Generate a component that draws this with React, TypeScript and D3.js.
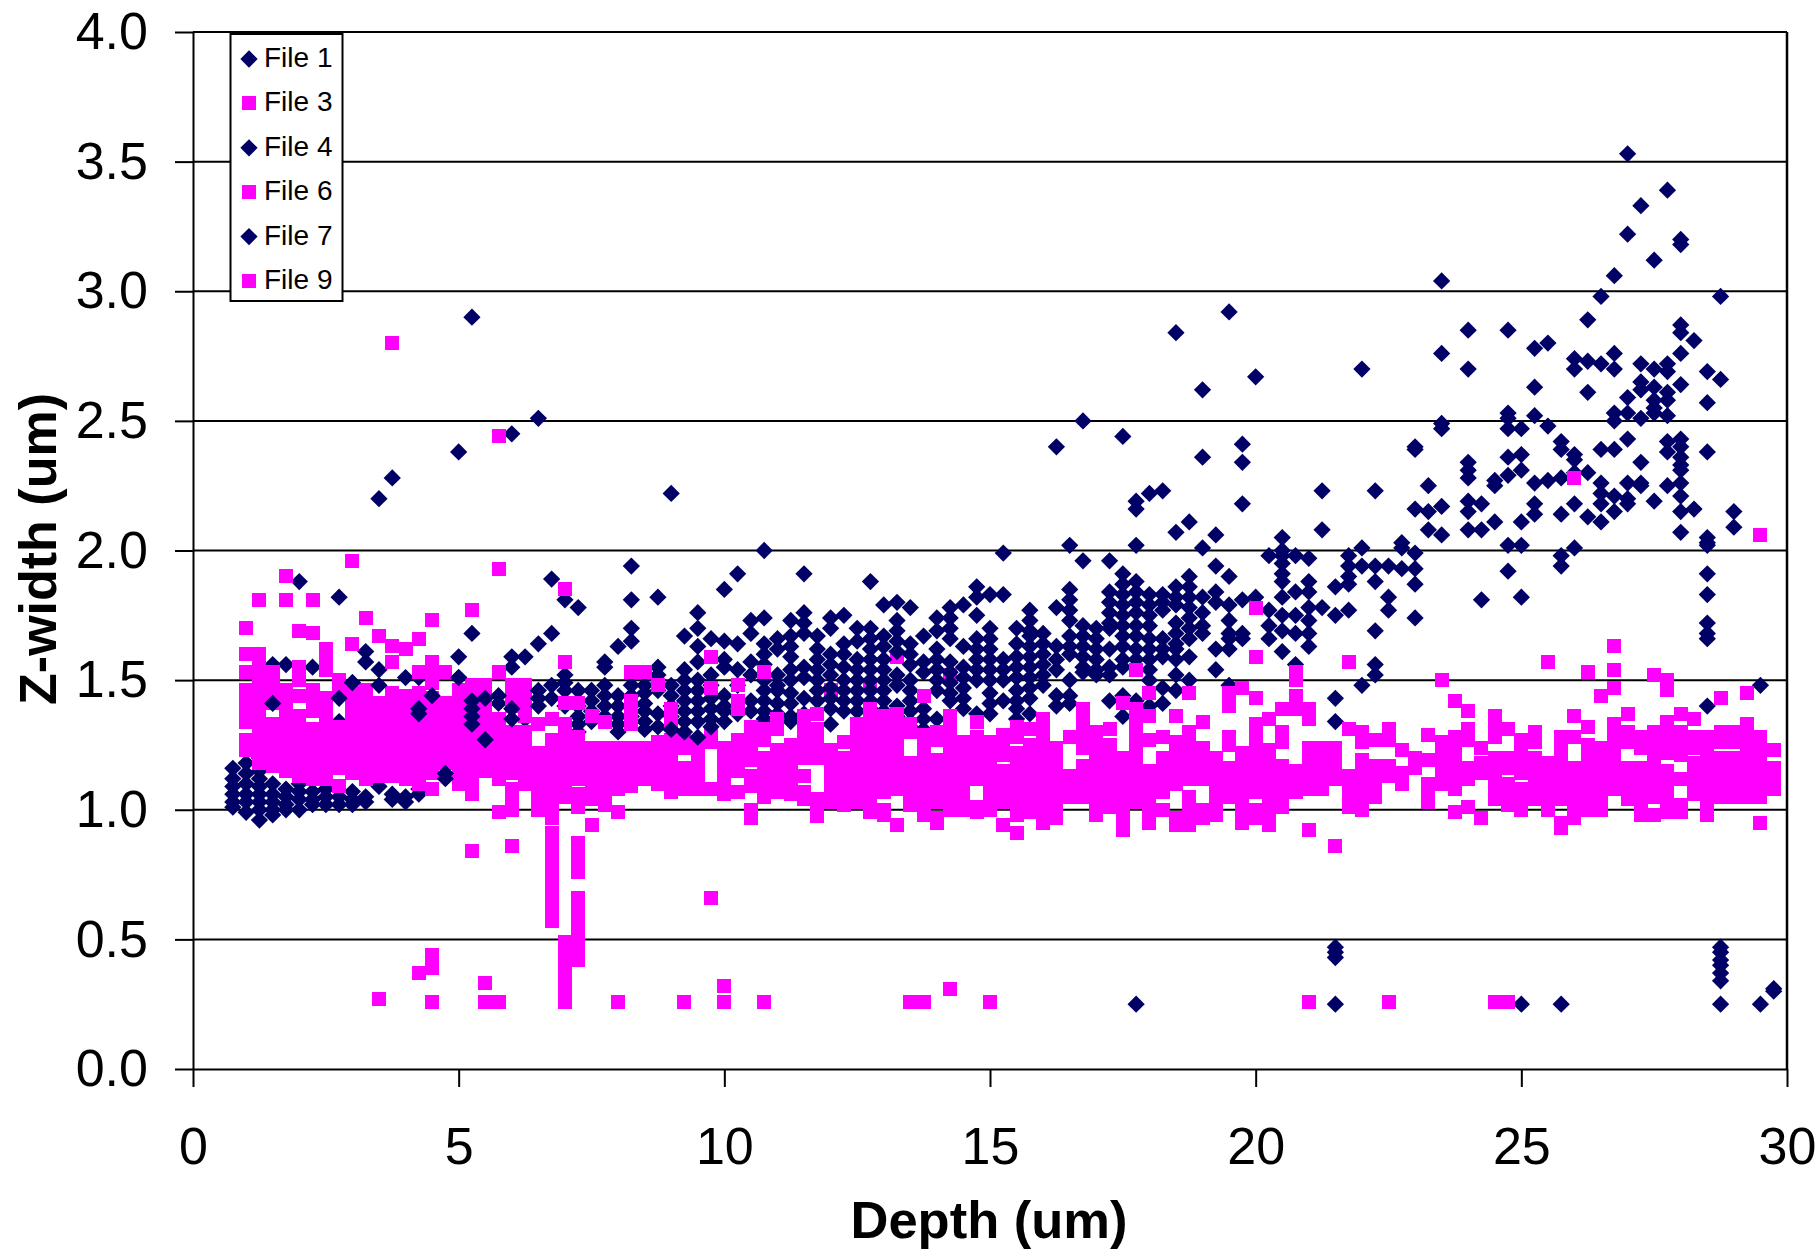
import React, { useEffect, useRef } from 'react'
import * as d3 from 'd3'

type Column = [number, number[]]

const navy = '#000066'
const magenta = '#ff00ff'

const xTickValues = [0, 5, 10, 15, 20, 25, 30]
const yTickValues = [0, 0.5, 1, 1.5, 2, 2.5, 3, 3.5, 4]
const legendLabels = ['File 1', 'File 3', 'File 4', 'File 6', 'File 7', 'File 9']

// [depth, z-widths]
const file1: Column[] = [
  [0.75, [1.16, 1.12, 1.09, 1.06, 1.03, 1.01]],
  [1, [1.18, 1.14, 1.1, 1.06, 1.03, 0.99]],
  [1.25, [1.2, 1.15, 1.12, 1.09, 1.06, 1.03, 1, 0.96]],
  [1.5, [1.56, 1.18, 1.1, 1.06, 1.03, 1, 0.98]],
  [1.75, [1.56, 1.08, 1.05, 1.02, 1]],
  [2, [1.88, 1.1, 1.07, 1.04, 1]],
  [2.25, [1.55, 1.07, 1.04, 1.02]],
  [2.5, [1.08, 1.05, 1.02]],
  [2.75, [1.82, 1.34, 1.05, 1.02]],
  [3, [1.49, 1.07, 1.04, 1.02]],
  [3.25, [1.61, 1.57, 1.05, 1.03]],
  [3.5, [2.2, 1.54, 1.3, 1.09]],
  [3.75, [2.28, 1.06, 1.04]],
  [4, [1.51, 1.05, 1.03]],
  [4.25, [1.51, 1.08, 1.06]],
  [4.5, [1.3]],
  [5, [2.38, 1.59, 1.51]],
  [5.25, [2.9, 1.68]],
  [5.75, [1.41]],
  [6, [2.45, 1.59, 1.55]],
  [6.25, [1.59, 1.35]],
]

const file3: Column[] = [
  [1, [1.7, 1.6, 1.53, 1.46, 1.42, 1.38, 1.34, 1.27, 1.23]],
  [1.25, [1.81, 1.6, 1.56, 1.52, 1.48, 1.44, 1.4, 1.36, 1.31, 1.27, 1.23, 1.2, 1.18]],
  [1.5, [1.53, 1.49, 1.45, 1.41, 1.33, 1.29, 1.25, 1.21, 1.17]],
  [1.75, [1.9, 1.81, 1.46, 1.42, 1.38, 1.34, 1.3, 1.26, 1.22, 1.18, 1.15]],
  [2, [1.69, 1.55, 1.51, 1.5, 1.44, 1.36, 1.32, 1.28, 1.24, 1.2, 1.16, 1.13]],
  [2.25, [1.81, 1.68, 1.46, 1.42, 1.38, 1.31, 1.27, 1.23, 1.19, 1.15, 1.12]],
  [2.5, [1.62, 1.58, 1.54, 1.43, 1.39, 1.35, 1.31, 1.27, 1.23, 1.19, 1.15, 1.12]],
  [2.75, [1.5, 1.46, 1.32, 1.28, 1.24, 1.2, 1.16, 1.09]],
  [3, [1.96, 1.64, 1.45, 1.42, 1.38, 1.34, 1.3, 1.26, 1.22, 1.18, 1.14]],
  [3.25, [1.74, 1.46, 1.42, 1.38, 1.34, 1.3, 1.26, 1.22, 1.18, 1.14, 1.12]],
  [3.5, [1.67, 1.41, 1.37, 1.33, 1.29, 1.25, 1.21, 1.17, 1.13, 0.27]],
  [3.75, [2.8, 1.63, 1.57, 1.45, 1.41, 1.37, 1.33, 1.29, 1.25, 1.21, 1.17, 1.13]],
  [4, [1.62, 1.44, 1.4, 1.36, 1.32, 1.28, 1.24, 1.2, 1.16, 1.12]],
  [4.25, [1.66, 1.53, 1.45, 1.41, 1.37, 1.33, 1.29, 1.25, 1.21, 1.17, 1.13, 1.1, 0.37]],
  [4.5, [1.73, 1.57, 1.53, 1.49, 1.43, 1.39, 1.35, 1.31, 1.27, 1.23, 1.19, 1.14, 1.08, 0.44, 0.39, 0.26]],
  [4.75, [1.53, 1.41, 1.37, 1.33, 1.29, 1.25, 1.21, 1.18]],
  [5, [1.46, 1.42, 1.38, 1.34, 1.3, 1.26, 1.22, 1.18, 1.14, 1.1]],
  [5.25, [1.77, 1.48, 1.44, 1.4, 1.36, 1.32, 1.28, 1.24, 1.2, 1.16, 1.12, 1.1, 1.06, 0.84]],
  [5.5, [1.48, 1.44, 1.4, 1.36, 1.32, 1.28, 1.24, 1.2, 1.15, 0.33, 0.26]],
  [5.75, [2.44, 1.93, 1.53, 1.35, 1.31, 1.27, 1.23, 1.19, 1.15, 1.12, 0.99, 0.26]],
  [6, [1.48, 1.44, 1.4, 1.3, 1.26, 1.22, 1.18, 1.14, 1.08, 1.04, 1, 0.86]],
  [6.25, [1.48, 1.44, 1.4, 1.36, 1.3, 1.26, 1.22, 1.18, 1.14, 1.1]],
  [12, [1.46]],
  [12.75, [1.48]],
  [13.25, [1.59]],
  [14.25, [1.52]],
]

const file4: Column[] = [
  [1.5, [1.41]],
  [2.75, [1.43]],
  [3, [1.49]],
  [3.5, [1.48]],
  [4.25, [1.39, 1.37]],
  [4.5, [1.44]],
  [4.75, [1.14, 1.12]],
  [5, [1.51]],
  [5.25, [1.42, 1.39, 1.36, 1.33]],
  [5.5, [1.43, 1.27]],
  [5.75, [1.44]],
  [6, [1.39, 1.35]],
  [6.5, [2.51, 1.64, 1.46, 1.43, 1.4]],
  [6.75, [1.89, 1.68, 1.48, 1.43]],
  [7, [1.81, 1.52, 1.49, 1.46, 1.4]],
  [7.25, [1.78, 1.46, 1.4, 1.36, 1.33, 1.3]],
  [7.5, [1.46, 1.42, 1.38, 1.34]],
  [7.75, [1.57, 1.55, 1.48, 1.44, 1.4, 1.36]],
  [8, [1.63, 1.44, 1.4, 1.36, 1.33, 1.3]],
  [8.25, [1.94, 1.81, 1.7, 1.65, 1.48, 1.44, 1.4, 1.36]],
  [8.5, [1.48, 1.45, 1.41, 1.38, 1.34, 1.31]],
  [8.75, [1.82, 1.55, 1.52, 1.5, 1.46, 1.37, 1.32]],
  [9, [2.22, 1.48, 1.44, 1.4, 1.36, 1.31]],
  [9.25, [1.67, 1.54, 1.5, 1.46, 1.42, 1.38, 1.34]],
  [9.5, [1.76, 1.7, 1.63, 1.57, 1.5, 1.46, 1.42, 1.38, 1.34]],
  [9.75, [1.66, 1.52, 1.48, 1.43, 1.39, 1.35]],
  [10, [1.85, 1.65, 1.58, 1.55, 1.44, 1.4, 1.38, 1.34]],
  [10.25, [1.91, 1.64, 1.54, 1.48, 1.37]],
  [10.5, [1.73, 1.68, 1.57, 1.52, 1.42, 1.38]],
  [10.75, [2, 1.74, 1.64, 1.6, 1.56, 1.5, 1.46, 1.42, 1.38, 1.35]],
  [11, [1.66, 1.62, 1.52, 1.48, 1.46, 1.41, 1.37]],
  [11.25, [1.73, 1.67, 1.63, 1.59, 1.54, 1.5, 1.45, 1.41, 1.36, 1.34]],
  [11.5, [1.91, 1.76, 1.72, 1.68, 1.55, 1.51, 1.43, 1.37]],
  [11.75, [1.67, 1.62, 1.58, 1.54, 1.5, 1.46, 1.42]],
  [12, [1.74, 1.7, 1.6, 1.56, 1.52, 1.47, 1.43, 1.39, 1.33]],
  [12.25, [1.75, 1.64, 1.6, 1.55, 1.5, 1.46, 1.42, 1.38]],
  [12.5, [1.7, 1.65, 1.58, 1.54, 1.5, 1.46, 1.42, 1.38]],
  [12.75, [1.88, 1.7, 1.66, 1.62, 1.58, 1.54, 1.5, 1.46, 1.42, 1.39]],
  [13, [1.79, 1.67, 1.63, 1.58, 1.54, 1.5, 1.46, 1.42, 1.38]],
  [13.25, [1.8, 1.73, 1.69, 1.65, 1.61, 1.52, 1.48, 1.4, 1.36]],
  [13.5, [1.78, 1.64, 1.6, 1.56, 1.5, 1.46, 1.42, 1.38, 1.34, 1.32]],
  [13.75, [1.67, 1.57, 1.53, 1.39, 1.35, 1.31]],
  [14, [1.74, 1.69, 1.62, 1.58, 1.54, 1.5, 1.46, 1.35]],
  [14.25, [1.78, 1.74, 1.7, 1.66, 1.57, 1.53, 1.49, 1.45, 1.42]],
  [14.5, [1.79, 1.63, 1.55, 1.51, 1.47, 1.43, 1.39]],
  [14.75, [1.86, 1.82, 1.75, 1.66, 1.62, 1.58, 1.54, 1.5, 1.37]],
  [15, [1.83, 1.7, 1.66, 1.62, 1.58, 1.54, 1.5, 1.45, 1.41, 1.37]],
  [15.25, [1.99, 1.83, 1.58, 1.54, 1.5, 1.42]],
  [15.5, [1.7, 1.64, 1.59, 1.55, 1.51, 1.46, 1.42, 1.39, 1.35]],
  [15.75, [1.77, 1.73, 1.69, 1.67, 1.63, 1.59, 1.55, 1.51, 1.47, 1.43, 1.37]],
  [16, [1.68, 1.64, 1.6, 1.56, 1.52, 1.48]],
  [16.25, [2.4, 1.78, 1.63, 1.58, 1.54, 1.44, 1.4]],
  [16.5, [2.02, 1.85, 1.81, 1.77, 1.73, 1.67, 1.63, 1.6, 1.5, 1.44, 1.41]],
  [16.75, [2.5, 1.96, 1.71, 1.67, 1.63, 1.59, 1.55, 1.53]],
  [17, [1.7, 1.66, 1.62, 1.58, 1.54, 1.52]],
  [17.25, [1.96, 1.84, 1.8, 1.76, 1.72, 1.7, 1.62, 1.55, 1.52, 1.42]],
  [17.5, [2.44, 1.91, 1.87, 1.83, 1.79, 1.75, 1.71, 1.67, 1.63, 1.58, 1.55, 1.44, 1.36]],
  [17.75, [2.19, 2.16, 2.02, 1.88, 1.84, 1.8, 1.76, 1.71, 1.67, 1.62, 1.58, 1.42, 0.25]],
  [18, [2.22, 1.83, 1.79, 1.75, 1.71, 1.66, 1.62, 1.58, 1.54, 1.5, 1.4]],
]

const file6: Column[] = [
  [6.5, [1.33, 1.22, 1.18, 1.14, 1.1, 1.06, 1.02, 1]],
  [6.75, [1.35, 1.27, 1.23, 1.19, 1.15, 1.11, 1.07, 1.03, 1, 0.97, 0.91, 0.87, 0.83, 0.79, 0.76, 0.72, 0.68, 0.64, 0.6, 0.57]],
  [7, [1.85, 1.57, 1.41, 1.33, 1.28, 1.24, 1.2, 1.16, 1.12, 1.09, 1.05, 0.49, 0.45, 0.41, 0.37, 0.33, 0.29, 0.26]],
  [7.25, [1.41, 1.28, 1.24, 1.2, 1.15, 1.12, 1.06, 1.01, 0.87, 0.83, 0.81, 0.76, 0.66, 0.62, 0.58, 0.54, 0.5, 0.46, 0.42]],
  [7.5, [1.36, 1.24, 1.2, 1.16, 1.12, 1.09, 1.05, 1.04, 0.94]],
  [7.75, [1.34, 1.24, 1.2, 1.16, 1.12, 1.08, 1.05, 1.02]],
  [8, [1.24, 1.2, 1.16, 1.12, 1.08, 0.99, 0.26]],
  [8.25, [1.53, 1.42, 1.37, 1.33, 1.24, 1.2, 1.16, 1.13, 1.09]],
  [8.5, [1.53, 1.24, 1.2, 1.16, 1.12]],
  [8.75, [1.48, 1.26, 1.22, 1.18, 1.14, 1.1]],
  [9, [1.39, 1.38, 1.34, 1.27, 1.23, 1.19, 1.15, 1.11, 1.07]],
  [9.25, [1.27, 1.24, 1.16, 1.12, 1.08, 0.26]],
  [9.5, [1.26, 1.22, 1.18, 1.14, 1.1, 1.08]],
  [9.75, [1.59, 1.47, 1.3, 1.26, 1.08, 0.66]],
  [10, [1.24, 1.2, 1.16, 1.12, 1.08, 1.06, 0.32, 0.26]],
  [10.25, [1.48, 1.42, 1.39, 1.27, 1.23, 1.18, 1.15, 1.07]],
  [10.5, [1.32, 1.28, 1.24, 1.2, 1.19, 1.13, 1.09, 1, 0.97]],
  [10.75, [1.53, 1.31, 1.27, 1.2, 1.16, 1.12, 1.08, 1.05, 0.26]],
  [11, [1.35, 1.31, 1.23, 1.19, 1.15, 1.11, 1.07]],
  [11.25, [1.25, 1.21, 1.18, 1.15, 1.11, 1.06]],
  [11.5, [1.36, 1.32, 1.28, 1.24, 1.2, 1.13, 1.07, 1.04]],
  [11.75, [1.37, 1.31, 1.27, 1.24, 1.2, 1.04, 0.995, 0.975]],
  [12, [1.23, 1.19, 1.15, 1.11, 1.07, 1.03]],
  [12.25, [1.26, 1.2, 1.17, 1.13, 1.09, 1.05, 1.02]],
  [12.5, [1.33, 1.29, 1.25, 1.21, 1.17, 1.13, 1.09, 1.05, 1.03]],
  [12.75, [1.39, 1.34, 1.3, 1.26, 1.22, 1.18, 1.14, 1.1, 1.06, 1.02, 0.99]],
  [13, [1.36, 1.32, 1.28, 1.24, 1.19, 1.15, 1.11, 1.07, 1, 0.98]],
  [13.25, [1.37, 1.33, 1.29, 1.24, 1.2, 1.16, 1.12, 1.08, 0.94]],
  [13.5, [1.33, 1.3, 1.18, 1.14, 1.1, 1.06, 1.02, 0.26]],
  [13.75, [1.44, 1.29, 1.25, 1.21, 1.17, 1.13, 1.09, 1.05, 1.01, 0.98, 0.26]],
  [14, [1.3, 1.27, 1.19, 1.15, 1.11, 1.07, 1.03, 0.97, 0.95]],
  [14.25, [1.36, 1.32, 1.28, 1.24, 1.2, 1.16, 1.12, 1.08, 1.04, 1, 0.31]],
  [14.5, [1.26, 1.22, 1.18, 1.14, 1.1, 1.06, 1.03, 1]],
  [14.75, [1.34, 1.28, 1.24, 1.2, 1.16, 1.12, 1.01, 0.99]],
  [15, [1.26, 1.22, 1.18, 1.14, 1.1, 1.06, 1.02, 1, 0.26]],
  [15.25, [1.29, 1.26, 1.21, 1.15, 1.11, 1.07, 1.03, 0.94]],
  [15.5, [1.32, 1.28, 1.22, 1.18, 1.14, 1.1, 1.06, 1.02, 0.98, 0.91]],
  [15.75, [1.31, 1.25, 1.2, 1.15, 1.11, 1.07, 1.03, 0.99]],
  [16, [1.35, 1.3, 1.26, 1.22, 1.18, 1.14, 1.1, 1.06, 1.02, 0.98, 0.95]],
  [16.25, [1.24, 1.2, 1.16, 1.12, 1.08, 1.04, 1, 0.97]],
  [16.5, [1.28, 1.13, 1.09, 1.05]],
  [16.75, [1.39, 1.35, 1.31, 1.27, 1.24, 1.17, 1.13, 1.09, 1.05]],
  [17, [1.3, 1.25, 1.21, 1.17, 1.13, 1.09, 1.05, 1.01, 0.98]],
  [17.25, [1.31, 1.25, 1.21, 1.17, 1.13, 1.09, 1.05, 1.01]],
  [17.5, [1.41, 1.2, 1.16, 1.12, 1.08, 1.04, 1, 0.96, 0.92]],
  [17.75, [1.54, 1.39, 1.35, 1.31, 1.27, 1.23, 1.19, 1.15, 1.11, 1.07, 1.03]],
]

const file7: Column[] = [
  [9, [1.31]],
  [9.25, [1.3]],
  [9.5, [1.28]],
  [9.75, [1.32]],
  [18.25, [2.23, 1.83, 1.8, 1.77, 1.66, 1.62, 1.59, 1.47, 1.41]],
  [18.5, [2.84, 2.07, 1.86, 1.82, 1.79, 1.72, 1.68, 1.64, 1.62, 1.58, 1.52, 1.46]],
  [18.75, [2.11, 1.9, 1.86, 1.82, 1.78, 1.74, 1.7, 1.66, 1.59, 1.5]],
  [19, [2.62, 2.36, 2.01, 1.82, 1.76, 1.71, 1.68]],
  [19.25, [2.06, 1.94, 1.84, 1.8, 1.62, 1.54]],
  [19.5, [2.92, 1.9, 1.79, 1.73, 1.68, 1.66, 1.62, 1.48]],
  [19.75, [2.41, 2.34, 2.18, 1.81, 1.68, 1.66]],
  [20, [2.67, 1.82]],
  [20.25, [1.98, 1.77, 1.71, 1.66]],
  [20.5, [2.05, 2, 1.98, 1.95, 1.91, 1.88, 1.82, 1.75, 1.69, 1.61]],
  [20.75, [1.98, 1.84, 1.75, 1.68, 1.56]],
  [21, [1.97, 1.88, 1.84, 1.78, 1.73, 1.68, 1.63]],
  [21.25, [2.23, 2.08, 1.78]],
  [21.5, [1.86, 1.75, 1.43, 1.34, 0.47, 0.45, 0.43, 0.25]],
  [21.75, [1.98, 1.94, 1.9, 1.87, 1.77]],
  [22, [2.7, 2.01, 1.94, 1.48]],
  [22.25, [2.23, 1.94, 1.88, 1.69, 1.56, 1.52]],
  [22.5, [1.94, 1.82, 1.77]],
  [22.75, [2.03, 2.01, 1.93]],
  [23, [2.4, 2.39, 2.16, 1.99, 1.93, 1.87, 1.74]],
  [23.25, [2.25, 2.15, 2.08]],
  [23.5, [3.04, 2.76, 2.49, 2.47, 2.17, 2.06]],
  [24, [2.85, 2.7, 2.34, 2.31, 2.28, 2.19, 2.15, 2.08]],
  [24.25, [2.18, 2.08, 1.81]],
  [24.5, [2.27, 2.25, 2.11]],
  [24.75, [2.85, 2.53, 2.51, 2.47, 2.36, 2.29, 2.02, 1.92]],
  [25, [2.47, 2.37, 2.31, 2.11, 2.02, 1.82, 0.25]],
  [25.25, [2.78, 2.63, 2.52, 2.26, 2.18, 2.14]],
  [25.5, [2.8, 2.48, 2.27]],
  [25.75, [2.42, 2.39, 2.28, 2.14, 1.98, 1.94, 0.25]],
  [26, [2.74, 2.7, 2.37, 2.35, 2.3, 2.18, 2.01]],
  [26.25, [2.89, 2.73, 2.61, 2.3, 2.13]],
  [26.5, [2.98, 2.72, 2.39, 2.26, 2.22, 2.18, 2.11]],
  [26.75, [3.06, 2.76, 2.7, 2.53, 2.5, 2.39, 2.21, 2.15]],
  [27, [3.53, 3.22, 2.59, 2.53, 2.43, 2.26, 2.2, 2.18]],
  [27.25, [3.33, 2.72, 2.65, 2.62, 2.51, 2.34, 2.26, 2.25]],
  [27.5, [3.12, 2.7, 2.63, 2.58, 2.55, 2.53, 2.19]],
  [27.75, [3.39, 2.72, 2.69, 2.61, 2.58, 2.52, 2.42, 2.38, 2.25]],
  [28, [3.2, 3.18, 2.87, 2.84, 2.76, 2.64, 2.43, 2.4, 2.36, 2.33, 2.31, 2.26, 2.21, 2.15, 2.07]],
  [28.25, [2.81, 2.16]],
  [28.5, [2.69, 2.57, 2.38, 2.05, 2.03, 2.02, 1.91, 1.83, 1.72, 1.68, 1.66, 1.4]],
  [28.75, [2.98, 2.66, 0.47, 0.45, 0.42, 0.4, 0.37, 0.34, 0.25]],
  [29, [2.15, 2.09]],
  [29.5, [1.48, 0.25]],
  [29.75, [0.31, 0.3]],
]

const file9: Column[] = [
  [18, [1.45, 1.36, 1.27, 1.15, 1.11, 1.07, 1.03, 0.98, 0.95]],
  [18.25, [1.28, 1.2, 1.15, 1.11, 1.07, 1]],
  [18.5, [1.36, 1.26, 1.22, 1.18, 1.14, 1.1, 0.97, 0.94]],
  [18.75, [1.45, 1.3, 1.25, 1.2, 1.16, 1.12, 1.05, 1.01, 0.97, 0.94]],
  [19, [1.34, 1.24, 1.2, 1.16, 1.12, 1, 0.97]],
  [19.25, [1.2, 1.16, 1.12, 1.08, 1.04, 1, 0.98]],
  [19.5, [1.45, 1.4, 1.28, 1.25, 1.16, 1.12, 1.08, 1.05]],
  [19.75, [1.47, 1.22, 1.18, 1.14, 1.1, 1.06, 1.02, 0.98, 0.95]],
  [20, [1.78, 1.59, 1.43, 1.33, 1.28, 1.23, 1.19, 1.15, 1.11, 1.07, 1, 0.97]],
  [20.25, [1.35, 1.23, 1.19, 1.16, 1.12, 1.08, 1.03, 1, 0.97, 0.94]],
  [20.5, [1.39, 1.3, 1.26, 1.17, 1.13, 1.09, 1.05, 1.01]],
  [20.75, [1.53, 1.5, 1.44, 1.39, 1.15, 1.11, 1.07]],
  [21, [1.39, 1.35, 1.24, 1.2, 1.16, 1.12, 1.08, 0.92, 0.26]],
  [21.25, [1.24, 1.2, 1.16, 1.12, 1.08]],
  [21.5, [1.24, 1.2, 1.16, 1.12, 0.86]],
  [21.75, [1.57, 1.31, 1.13, 1.09, 1.05, 1.01]],
  [22, [1.3, 1.26, 1.19, 1.15, 1.11, 1.07, 1.03, 1]],
  [22.25, [1.27, 1.17, 1.13, 1.09, 1.05]],
  [22.5, [1.31, 1.27, 1.17, 1.13, 0.26]],
  [22.75, [1.23, 1.14, 1.1]],
  [23, [1.2, 1.16]],
  [23.25, [1.29, 1.19, 1.1, 1.06, 1.03]],
  [23.5, [1.5, 1.26, 1.22, 1.18, 1.14, 1.1]],
  [23.75, [1.42, 1.28, 1.24, 1.2, 1.16, 1.12, 1.08, 0.99]],
  [24, [1.38, 1.31, 1.27, 1.16, 1.12, 1.01]],
  [24.25, [1.24, 1.18, 1.14, 0.97]],
  [24.5, [1.36, 1.32, 1.28, 1.2, 1.16, 1.12, 1.08, 1.04, 0.26]],
  [24.75, [1.31, 1.2, 1.16, 1.1, 1.06, 1.02, 0.26]],
  [25, [1.27, 1.22, 1.18, 1.14, 1.08, 1.04, 1]],
  [25.25, [1.3, 1.26, 1.2, 1.16, 1.12, 1.08, 1.04]],
  [25.5, [1.57, 1.18, 1.14, 1.1, 1.06, 1.02, 1]],
  [25.75, [1.28, 1.24, 1.2, 1.16, 1.12, 1.08, 1.04, 0.95, 0.93]],
  [26, [2.28, 1.36, 1.28, 1.16, 1.12, 1.08, 1.04, 1, 0.97]],
  [26.25, [1.53, 1.32, 1.25, 1.2, 1.16, 1.12, 1.08, 1.04, 1]],
  [26.5, [1.44, 1.24, 1.2, 1.16, 1.12, 1.08, 1.04, 1]],
  [26.75, [1.63, 1.54, 1.47, 1.33, 1.28, 1.24, 1.2, 1.16, 1.12, 1.08]],
  [27, [1.37, 1.3, 1.26, 1.16, 1.12, 1.08, 1.04]],
  [27.25, [1.28, 1.24, 1.16, 1.12, 1.08, 1.04, 1, 0.98]],
  [27.5, [1.52, 1.3, 1.26, 1.22, 1.17, 1.13, 1.09, 1.05, 0.98]],
  [27.75, [1.5, 1.46, 1.34, 1.3, 1.26, 1.22, 1.15, 1.11, 1.06, 1.02, 0.99]],
  [28, [1.37, 1.3, 1.26, 1.21, 1.12, 1.02, 0.99]],
  [28.25, [1.35, 1.28, 1.24, 1.18, 1.14, 1.1, 1.06]],
  [28.5, [1.28, 1.24, 1.2, 1.16, 1.12, 1.08, 1.04, 1, 0.98]],
  [28.75, [1.43, 1.3, 1.26, 1.2, 1.16, 1.12, 1.08, 1.05]],
  [29, [1.3, 1.26, 1.2, 1.16, 1.12, 1.08, 1.05]],
  [29.25, [1.45, 1.33, 1.28, 1.24, 1.2, 1.16, 1.12, 1.08, 1.05]],
  [29.5, [2.06, 1.28, 1.24, 1.2, 1.16, 1.12, 1.08, 1.05, 0.95]],
  [29.75, [1.23, 1.16, 1.12, 1.08]],
]

const seriesList = [file1, file3, file4, file6, file7, file9]

const width = 1819
const height = 1250
const marginLeft = 193
const marginRight = 32
const marginTop = 32
const marginBottom = 181
const fontFamily = '"Liberation Sans", Arial, sans-serif'

const App = () => {
  const svgRef = useRef<SVGSVGElement>(null)

  useEffect(() => {
    const svg = d3.select(svgRef.current)
    svg.selectAll('*').remove()

    const x = d3.scaleLinear().domain([0, 30]).range([marginLeft, width - marginRight])
    const y = d3.scaleLinear().domain([0, 4]).range([height - marginBottom, marginTop])

    const diamond = d3.symbol().type(d3.symbolDiamond2).size(190)
    const square = d3.symbol().type(d3.symbolSquare).size(196)

    // gridlines and frame
    svg.append('g')
      .selectAll('line')
      .data(yTickValues.slice(1))
      .join('line')
      .attr('x1', marginLeft)
      .attr('x2', width - marginRight)
      .attr('y1', d => y(d))
      .attr('y2', d => y(d))
      .attr('stroke', '#000')
      .attr('stroke-width', 2)

    svg.append('line')
      .attr('x1', width - marginRight)
      .attr('x2', width - marginRight)
      .attr('y1', marginTop)
      .attr('y2', height - marginBottom)
      .attr('stroke', '#000')
      .attr('stroke-width', 2.5)

    // one group per file, in legend order so later files sit on top
    seriesList.forEach((columns, i) => {
      const isDiamond = i % 2 === 0
      const points = columns.flatMap(([depth, zs]) => zs.map(z => [depth, z]))
      svg.append('g')
        .attr('fill', isDiamond ? navy : magenta)
        .attr('shape-rendering', isDiamond ? 'auto' : 'crispEdges')
        .selectAll('path')
        .data(points)
        .join('path')
        .attr('d', isDiamond ? diamond() : square())
        .attr('transform', d => `translate(${x(d[0])},${y(d[1])})`)
    })

    const xAxis = svg.append('g')
      .attr('transform', `translate(0,${height - marginBottom})`)
      .call(d3.axisBottom(x).tickValues(xTickValues).tickFormat(d3.format('d')).tickSize(18).tickSizeOuter(0).tickPadding(40))
    const yAxis = svg.append('g')
      .attr('transform', `translate(${marginLeft},0)`)
      .call(d3.axisLeft(y).tickValues(yTickValues).tickFormat(d3.format('.1f')).tickSize(18).tickSizeOuter(0).tickPadding(27))

    for (const axis of [xAxis, yAxis]) {
      axis.attr('font-family', fontFamily).attr('font-size', 52)
      axis.selectAll('.domain, .tick line').attr('stroke', '#000').attr('stroke-width', 2)
      axis.selectAll('.tick text').attr('fill', '#000')
    }

    svg.append('text')
      .attr('x', 989)
      .attr('y', 1238)
      .attr('text-anchor', 'middle')
      .attr('font-family', fontFamily)
      .attr('font-size', 52.5)
      .attr('font-weight', 'bold')
      .text('Depth (um)')

    svg.append('text')
      .attr('transform', 'translate(56,549) rotate(-90)')
      .attr('text-anchor', 'middle')
      .attr('font-family', fontFamily)
      .attr('font-size', 52)
      .attr('font-weight', 'bold')
      .text('Z-width (um)')

    // legend
    const legend = svg.append('g')
    legend.append('rect')
      .attr('x', 230.5)
      .attr('y', 34)
      .attr('width', 112)
      .attr('height', 267)
      .attr('fill', '#fff')
      .attr('stroke', '#000')
      .attr('stroke-width', 2)

    const rowY = d3.scalePoint<string>().domain(legendLabels).range([59, 281])
    legendLabels.forEach((label, i) => {
      const ly = rowY(label) as number
      legend.append('path')
        .attr('d', i % 2 === 0 ? diamond() : square())
        .attr('transform', `translate(249,${ly})`)
        .attr('fill', i % 2 === 0 ? navy : magenta)
        .attr('shape-rendering', i % 2 === 0 ? 'auto' : 'crispEdges')
      legend.append('text')
        .attr('x', 264)
        .attr('y', ly + 8)
        .attr('font-family', fontFamily)
        .attr('font-size', 28)
        .text(label)
    })
  }, [])

  return (
    <svg
      ref={svgRef}
      width={width}
      height={height}
      viewBox={`0 0 ${width} ${height}`}
      style={{ position: 'absolute', left: 0, top: 0, display: 'block', background: '#fff' }}
    />
  )
}

export default App
